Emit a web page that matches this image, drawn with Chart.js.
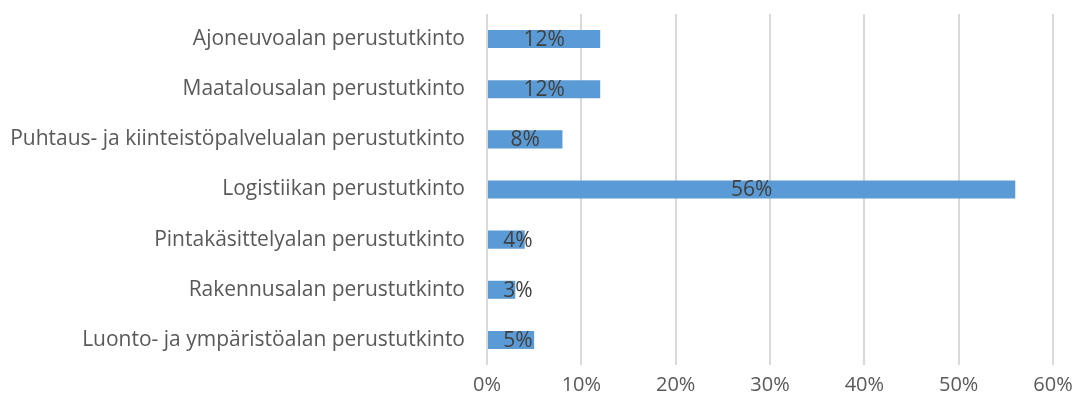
<!DOCTYPE html>
<html>
<head>
<meta charset="utf-8">
<script src="https://cdn.jsdelivr.net/npm/chart.js"></script>
<style>
  html, body { margin: 0; padding: 0; background: #fff; }
  #wrap { width: 1075px; height: 406px; }
</style>
</head>
<body>
<div id="wrap"><canvas id="chart"></canvas></div>
<script>
const categories = [
    "Ajoneuvoalan perustutkinto",
    "Maatalousalan perustutkinto",
    "Puhtaus- ja kiinteistöpalvelualan perustutkinto",
    "Logistiikan perustutkinto",
    "Pintakäsittelyalan perustutkinto",
    "Rakennusalan perustutkinto",
    "Luonto- ja ympäristöalan perustutkinto"
];
const shares = [12, 12, 8, 56, 4, 3, 5];
const axisMax = 60;
const axisStep = 10;

const fontFamily = "'Open Sans', Lato, sans-serif";

// labels in the middle of each bar, kept clear of the axis for short bars
const barLabels = {
    id: "barLabels",
    afterDatasetsDraw(chart) {
        const ctx = chart.ctx;
        const meta = chart.getDatasetMeta(0);
        ctx.save();
        ctx.font = "21px " + fontFamily;
        ctx.fillStyle = "#404040";
        ctx.textAlign = "center";
        ctx.textBaseline = "middle";
        meta.data.forEach((bar, i) => {
            const mid = (bar.x + bar.base) / 2;
            const x = Math.max(mid, bar.base + 30);
            ctx.fillText(shares[i] + "%", x, bar.y + 1);
        });
        ctx.restore();
    }
};

new Chart(document.getElementById("chart"), {
    type: "bar",
    data: {
        labels: categories,
        datasets: [{
            data: shares,
            backgroundColor: "#5B9BD5",
            barPercentage: 1,
            categoryPercentage: 0.36
        }]
    },
    options: {
        indexAxis: "y",
        responsive: true,
        maintainAspectRatio: false,
        animation: false,
        layout: { padding: { top: 14, right: 22, bottom: 0, left: 0 } },
        plugins: {
            legend: { display: false },
            tooltip: { enabled: false }
        },
        scales: {
            x: {
                min: 0,
                max: axisMax,
                ticks: {
                    stepSize: axisStep,
                    callback: v => v + "%",
                    color: "#595959",
                    font: { family: fontFamily, size: 20 },
                    padding: 8
                },
                grid: { color: "#D9D9D9", lineWidth: 2, drawTicks: false },
                border: { display: false },
                afterFit(scale) {
                    scale.height = 41;
                    scale.paddingLeft = 0;
                    scale.paddingRight = 0;
                }
            },
            y: {
                ticks: {
                    color: "#595959",
                    font: { family: fontFamily, size: 21 },
                    padding: 14
                },
                grid: { display: false },
                border: { display: false },
                afterFit(scale) {
                    scale.width = 487;
                    scale.paddingTop = 0;
                    scale.paddingBottom = 0;
                }
            }
        }
    },
    plugins: [barLabels]
});
</script>
</body>
</html>
